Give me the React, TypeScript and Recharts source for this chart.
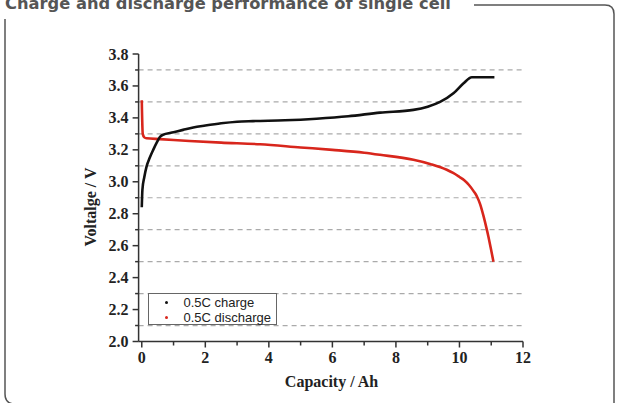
import React from 'react';
import { LineChart, Line, XAxis, YAxis, ReferenceLine, Legend, Label } from 'recharts';

// ---- data ----
const chargeX = [0, 0.02, 0.08, 0.15, 0.25, 0.36, 0.47, 0.57, 0.65, 1.0, 1.3, 1.62, 2.0, 2.5, 3.0, 3.5, 4.5, 5.5, 6.5, 7.5, 8.55, 9.0, 9.39, 9.81, 10.13, 10.39, 11.1];
const chargeV = [2.84, 2.95, 3.03, 3.095, 3.15, 3.2, 3.245, 3.28, 3.293, 3.31, 3.325, 3.34, 3.352, 3.366, 3.376, 3.38, 3.385, 3.395, 3.41, 3.433, 3.45, 3.47, 3.5, 3.554, 3.617, 3.654, 3.654];

const dischargeX = [0, 0.03, 0.08, 0.15, 0.57, 1.5, 2.5, 3.72, 5.0, 6.0, 7.0, 7.5, 8.55, 9.1, 9.6, 9.8, 10.0, 10.15, 10.3, 10.45, 10.55, 10.65, 10.76, 10.85, 10.91, 10.98, 11.07];
const dischargeV = [3.51, 3.3, 3.278, 3.272, 3.267, 3.255, 3.245, 3.235, 3.215, 3.2, 3.182, 3.169, 3.1375, 3.11, 3.075, 3.055, 3.03, 3.01, 2.98, 2.94, 2.908, 2.86, 2.783, 2.71, 2.658, 2.59, 2.5];

const seriesNames = ['0.5C charge', '0.5C discharge'];
const xTicks = [0, 1, 2, 3, 4, 5, 6, 7, 8, 9, 10, 11, 12];
const yTicks = [2.0, 2.1, 2.2, 2.3, 2.4, 2.5, 2.6, 2.7, 2.8, 2.9, 3.0, 3.1, 3.2, 3.3, 3.4, 3.5, 3.6, 3.7, 3.8];
const gridValues = [2.1, 2.3, 2.5, 2.7, 2.9, 3.1, 3.3, 3.5, 3.7];
const titleText = 'Charge and discharge performance of single cell';
const xLabel = 'Capacity / Ah';
const yLabel = 'Voltalge / V';

const chargeData = chargeX.map((x, i) => ({ x, v: chargeV[i] }));
const dischargeData = dischargeX.map((x, i) => ({ x, v: dischargeV[i] }));

const AXIS = '#333';
const SERIF = '"Liberation Serif", "Times New Roman", serif';
const SANS = '"Liberation Sans", Arial, sans-serif';

const XTick = (props: any) => {
  const { x, y, payload } = props;
  const v = payload.value;
  const major = Math.round(v) % 2 === 0;
  return (
    <g>
      <line x1={x} x2={x} y1={y} y2={y + (major ? 6 : 4)} stroke={AXIS} strokeWidth={1.5} />
      {major && (
        <text x={x} y={y + 21.5} textAnchor="middle" fontFamily={SERIF} fontWeight="bold" fontSize={16} fill="#222">
          {v}
        </text>
      )}
    </g>
  );
};

const YTick = (props: any) => {
  const { x, y, payload } = props;
  const v = payload.value;
  const major = Math.round(v * 10) % 2 === 0;
  return (
    <g>
      <line x1={x - (major ? 6 : 3.5)} x2={x} y1={y} y2={y} stroke={AXIS} strokeWidth={1.5} />
      {major && (
        <text x={x - 10} y={y + 5.5} textAnchor="end" fontFamily={SERIF} fontWeight="bold" fontSize={16} fill="#222">
          {v.toFixed(1)}
        </text>
      )}
    </g>
  );
};

const LegendBox = (props: any) => {
  const items = [...(props.payload || [])].sort(
    (a: any, b: any) => seriesNames.indexOf(a.value) - seriesNames.indexOf(b.value)
  );
  return (
    <div
      style={{
        width: 129,
        height: 32,
        boxSizing: 'border-box',
        border: '1px solid #666',
        background: '#fff',
        fontFamily: SANS,
        fontSize: 13,
        color: '#222',
        paddingTop: 1,
      }}
    >
      {items.map((it: any) => (
        <div key={it.value} style={{ display: 'flex', alignItems: 'center', height: 15, lineHeight: '15px' }}>
          <span
            style={{
              display: 'inline-block',
              width: 2.5,
              height: 2.5,
              borderRadius: 2,
              background: it.color,
              marginLeft: 16,
              marginRight: 16,
            }}
          />
          <span>{it.value}</span>
        </div>
      ))}
    </div>
  );
};

export default function App() {
  return (
    <div style={{ position: 'absolute', left: 0, top: 0, width: 617, height: 403, background: '#fff', overflow: 'hidden' }}>
      <svg width={617} height={403} style={{ position: 'absolute', left: 0, top: 0 }}>
        <text x={5} y={9} fontFamily='"DejaVu Sans", sans-serif' fontWeight="bold" fontSize={16.3} fill="#555">
          {titleText}
        </text>
        <path d="M 474 5 H 605 Q 614 5 614 14 V 403" fill="none" stroke="#555" strokeWidth={1.5} />
        <path d="M 5 19 V 394 Q 5 404 15 404" fill="none" stroke="#555" strokeWidth={1.5} />
      </svg>
      <div style={{ position: 'absolute', left: 0, top: 0 }}>
        <LineChart width={617} height={403} margin={{ top: 54, right: 94, bottom: 0, left: 0 }}>
          <XAxis
            type="number"
            dataKey="x"
            domain={[-0.1, 12]}
            ticks={xTicks}
            interval={0}
            allowDataOverflow
            height={61.5}
            tickSize={0}
            tickMargin={0}
            axisLine={{ stroke: AXIS, strokeWidth: 1.5 }}
            tickLine={false}
            tick={<XTick />}
          >
            <Label
              content={() => (
                <text x={331.5} y={387} textAnchor="middle" fontFamily={SERIF} fontWeight="bold" fontSize={16} fill="#222">
                  {xLabel}
                </text>
              )}
            />
          </XAxis>
          <YAxis
            type="number"
            dataKey="v"
            domain={[2.0, 3.8]}
            ticks={yTicks}
            interval={0}
            allowDataOverflow
            width={138.6}
            tickSize={0}
            tickMargin={0}
            axisLine={{ stroke: AXIS, strokeWidth: 1.5 }}
            tickLine={false}
            tick={<YTick />}
          >
            <Label
              content={() => (
                <text
                  x={96}
                  y={207}
                  transform="rotate(-90 96 207)"
                  textAnchor="middle"
                  fontFamily={SERIF}
                  fontWeight="bold"
                  fontSize={16}
                  fill="#222"
                >
                  {yLabel}
                </text>
              )}
            />
          </YAxis>
          {gridValues.map((g) => (
            <ReferenceLine key={g} y={g} stroke="#aaa" strokeWidth={1.2} strokeDasharray="5 4" />
          ))}
          <Line
            data={dischargeData}
            dataKey="v"
            name={seriesNames[1]}
            type="monotone"
            stroke="#d8261c"
            strokeWidth={2.6}
            dot={false}
            isAnimationActive={false}
          />
          <Line
            data={chargeData}
            dataKey="v"
            name={seriesNames[0]}
            type="monotone"
            stroke="#111"
            strokeWidth={2.6}
            dot={false}
            isAnimationActive={false}
          />
          <Legend
            layout="vertical"
            align="center"
            verticalAlign="middle"
            content={<LegendBox />}
            wrapperStyle={{ left: 148, top: 293, width: 129, height: 32 }}
          />
        </LineChart>
      </div>
    </div>
  );
}
